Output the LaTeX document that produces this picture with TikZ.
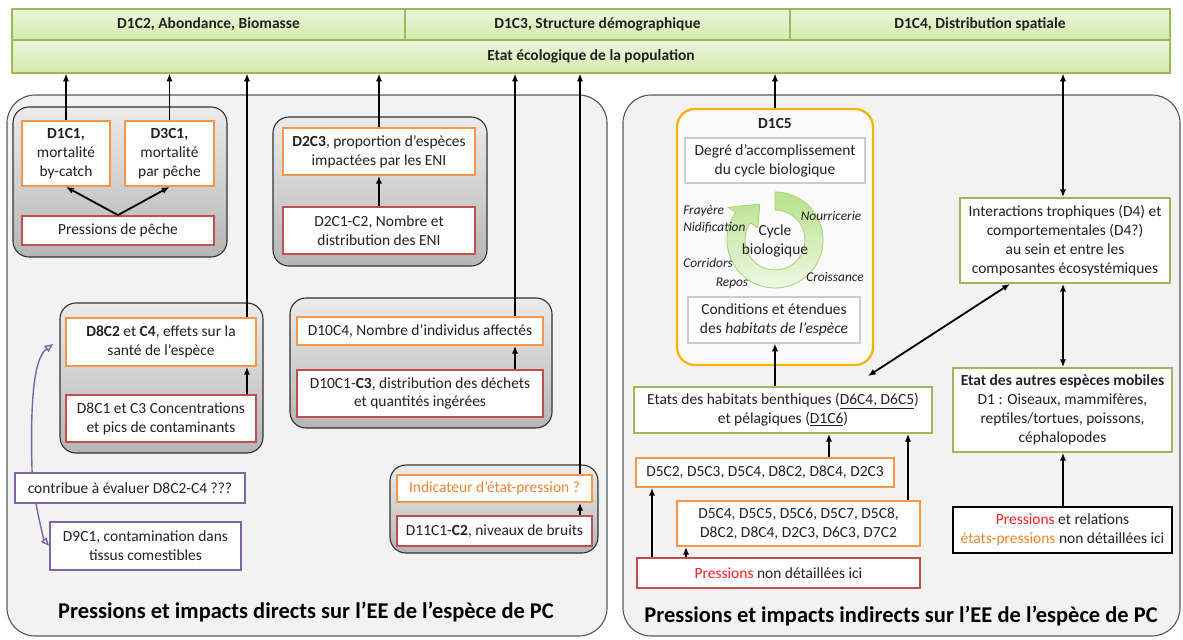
\documentclass[tikz,border=0pt]{standalone}
\usepackage{fontspec}
\setmainfont{Carlito}
\usetikzlibrary{arrows.meta,calc}
\definecolor{txt}{HTML}{222222}
\definecolor{orangeC}{HTML}{F79646}
\definecolor{redC}{HTML}{C0504D}
\definecolor{greenC}{HTML}{9BBB59}
\definecolor{purpleC}{HTML}{8064A2}
\definecolor{goldC}{HTML}{F5B400}
\definecolor{redT}{HTML}{FF2020}
\definecolor{orangeT}{HTML}{EE8533}
\definecolor{panelF}{HTML}{F2F2F2}
\definecolor{panelD}{HTML}{595959}
\definecolor{barT}{HTML}{ECF6DB}
\definecolor{barB}{HTML}{D3EAAE}
\definecolor{grpT}{HTML}{EBEBEB}
\definecolor{grpB}{HTML}{B5B5B5}
\definecolor{cycT}{HTML}{B8E28C}
\definecolor{cycB}{HTML}{EEF8E4}
\definecolor{cycD}{HTML}{A6D47C}
\begin{document}
\begin{tikzpicture}[x=0.025cm,y=-0.025cm,
  bx/.style args={#1/#2/#3/#4}{at={({(#1+#3)/2},{(#2+#4)/2})},
     minimum width={(#3-#1)*0.025cm}, minimum height={(#4-#2)*0.025cm}},
  base/.style={inner sep=0pt, align=center, text=txt, font=\fontsize{11}{13.4}\selectfont},
  obox/.style={base, draw=orangeC, line width=1.3pt, fill=white},
  rbox/.style={base, draw=redC, line width=1.3pt, fill=white},
  gbox/.style={base, draw=greenC, line width=1.3pt, fill=white},
  pbox/.style={base, draw=purpleC, line width=1.3pt, fill=white},
  kbox/.style={base, draw=black, line width=1.3pt, fill=white},
  lbox/.style={base, draw=black!20, line width=0.8pt, fill=white},
  barcell/.style={base, draw=greenC, line width=0.8pt, top color=barT, bottom color=barB, font=\fontsize{11}{13.4}\selectfont\bfseries},
  panel/.style={draw=panelD, line width=0.8pt, fill=panelF, rounded corners=0.7cm, inner sep=0pt},
  grp/.style={draw=black!80, line width=0.8pt, top color=grpT, bottom color=grpB, rounded corners=0.4cm, inner sep=0pt},
  lab/.style={inner sep=0pt, text=txt, font=\fontsize{9.5}{11}\selectfont\itshape},
  arr/.style={-{Latex[length=5.5pt,width=4.5pt]}, line width=1.3pt, black},
  darr/.style={{Latex[length=5.5pt,width=4.5pt]}-{Latex[length=5.5pt,width=4.5pt]}, line width=1.3pt, black},
  parr/.style={-{Triangle[open,length=6pt,width=5pt]}, line width=1pt, purpleC},
  ttl/.style={inner sep=0pt, text=black, font=\fontsize{16}{18}\selectfont\bfseries}
]
\useasboundingbox (0,0) rectangle (1183,639);

% panels
\node[panel, bx=7/95/607/636] (lp) {};
\node[panel, bx=623/95/1180/636] (rp) {};

% top bar
\node[barcell, bx=12/9/405/40] (b1) {D1C2, Abondance, Biomasse};
\node[barcell, bx=405/9/790/40] (b2) {D1C3, Structure démographique};
\node[barcell, bx=790/9/1170/40] (b3) {D1C4, Distribution spatiale};
\node[barcell, bx=12/40/1170/73] (bar) {Etat écologique de la population};

% left groups
\node[grp, bx=13/107/227/257] (g1) {};
\node[grp, bx=273/117/487/266] (g2) {};
\node[grp, bx=60/303/263/453] (g3) {};
\node[grp, bx=290/298/552/428] (g4) {};
\node[grp, bx=390/465/598/553] (g5) {};

\node[obox, bx=22/121/110/186] (d1c1) {\textbf{D1C1,}\\mortalité\\by-catch};
\node[obox, bx=125/121/214/186] (d3c1) {\textbf{D3C1,}\\mortalité\\par pêche};
\node[rbox, bx=22/216/214/245] (pp) {Pressions de pêche};

\node[obox, bx=283/128/475/175] (d2c3) {\textbf{D2C3}, proportion d’espèces\\impactées par les ENI};
\node[rbox, bx=283/207/475/254] (d2c1) {D2C1-C2, Nombre et\\distribution des ENI};

\node[obox, bx=66/318/256/366] (d8c2) {\textbf{D8C2} et \textbf{C4}, effets sur la\\santé de l’espèce};
\node[rbox, bx=66/395/256/442] (d8c1) {D8C1 et C3 Concentrations\\et pics de contaminants};

\node[obox, bx=297/317/543/345] (d10c4) {D10C4, Nombre d’individus affectés};
\node[rbox, bx=297/370/543/417] (d10c1) {D10C1-\textbf{C3}, distribution des déchets\\et quantités ingérées};

\node[obox, bx=397/475/592/502, text=orangeT] (ind) {Indicateur d’état-pression ?};
\node[rbox, bx=397/516/592/546] (d11) {D11C1-\textbf{C2}, niveaux de bruits};

\node[pbox, bx=15/473/245/503] (contrib) {contribue à évaluer D8C2-C4 ???};
\node[pbox, bx=50/522/241/570] (d9c1) {D9C1, contamination dans\\tissus comestibles};

% right side
\node[base, draw=goldC, line width=1.6pt, fill=white!60!panelF, rounded corners=0.45cm, bx=677/109/873/365] (d1c5) {};
\node[base, font=\fontsize{11}{13.4}\selectfont\bfseries] (d1c5t) at (775,123) {D1C5};
\node[lbox, bx=685/138/865/183] (degre) {Degré d’accomplissement\\du cycle biologique};
\node[lbox, bx=688/297/860/343] (cond) {Conditions et étendues\\des \textit{habitats de l’espèce}};

\begin{scope}[shift={(775,240)}, yscale=-1]
\shade[top color=cycT, bottom color=cycB, draw=cycD, line width=0.6pt]
  (90:48) arc[start angle=90, end angle=-215, radius=48] -- (-215:57) -- (-247:39)
  -- (-215:21) -- (-215:30) arc[start angle=-215, end angle=90, radius=30] -- cycle;
\end{scope}
\node[base] (cyc) at (775,241) {Cycle\\biologique};
\node[lab, anchor=west] (fray) at (683,211) {Frayère};
\node[lab, anchor=west] (nidi) at (683,228) {Nidification};
\node[lab] (nour) at (831,216) {Nourricerie};
\node[lab, anchor=west] (corr) at (683,263) {Corridors};
\node[lab] (repo) at (732,283) {Repos};
\node[lab] (croi) at (835,277) {Croissance};

\node[gbox, bx=960/198/1170/283] (inter) {Interactions trophiques (D4) et\\comportementales (D4?)\\au sein et entre les\\composantes écosystémiques};
\node[gbox, bx=953/368/1172/452] (autres) {\textbf{Etat des autres espèces mobiles}\\D1 : Oiseaux, mammifères,\\reptiles/tortues, poissons,\\céphalopodes};
\node[kbox, bx=953/507/1172/553] (prel) {{\color{redT}Pressions} et relations\\{\color{orangeT}états-pressions} non détaillées ici};

\node[gbox, bx=634/387/932/433] (hab) {Etats des habitats benthiques (\underline{D6C4, D6C5})\\et pélagiques (\underline{D1C6})};
\node[obox, bx=636/458/894/487] (d5a) {D5C2, D5C3, D5C4, D8C2, D8C4, D2C3};
\node[obox, bx=677/501/920/546] (d5b) {D5C4, D5C5, D5C6, D5C7, D5C8,\\D8C2, D8C4, D2C3, D6C3, D7C2};
\node[rbox, bx=637/558/920/588] (pnd) {{\color{redT}Pressions} non détaillées ici};

% titles
\node[ttl] (lt) at (306,612) {Pressions et impacts directs sur l’EE de l’espèce de PC};
\node[ttl] (rt) at (901,616) {Pressions et impacts indirects sur l’EE de l’espèce de PC};

% connectors left
\draw[arr] (pp.north) -- (d1c1.south);
\draw[arr] (pp.north) -- (d3c1.south);
\draw[arr] (d1c1.north) -- (d1c1.north |- bar.south);
\draw[arr] (d3c1.north) -- (d3c1.north |- bar.south);
\draw[arr] (d2c1.north) -- (d2c3.south);
\draw[arr] (d2c3.north) -- (d2c3.north |- bar.south);
\draw[arr] (247,0 |- d8c1.north) -- (247,0 |- d8c2.south);
\draw[arr] (247,0 |- d8c2.north) -- (247,0 |- bar.south);
\draw[arr] (515,0 |- d10c1.north) -- (515,0 |- d10c4.south);
\draw[arr] (515,0 |- d10c4.north) -- (515,0 |- bar.south);
\draw[arr] (580,0 |- d11.north) -- (580,0 |- ind.south);
\draw[arr] (580,0 |- ind.north) -- (580,0 |- bar.south);
\coordinate (ptip) at ($(d8c2.west)+(-12,2)$);
\draw[parr] ($(contrib.north west)+(18,0)$) .. controls (30,400) and (34,358) .. (ptip);
\draw[parr] ($(contrib.south west)+(22,0)$) .. controls (40,525) and (44,540) .. (d9c1.west);

% connectors right
\draw[arr] (d1c5.north) -- (d1c5.north |- bar.south);
\draw[darr] (1063,0 |- bar.south) -- (1063,0 |- inter.north);
\draw[darr] (1063,0 |- inter.south) -- (1063,0 |- autres.north);
\draw[arr] (1063,0 |- prel.north) -- (1063,0 |- autres.south);
\draw[arr] (775,0 |- hab.north) -- (775,0 |- cond.south);
\coordinate (hdiag) at ($(hab.north east)+(-65,-10)$);
\draw[darr] (hdiag) -- (1010,0 |- inter.south);
\draw[arr] (829,0 |- d5a.north) -- (829,0 |- hab.south);
\draw[arr] (908,0 |- d5b.north) -- (908,0 |- hab.south);
\draw[arr] (652,0 |- pnd.north) -- (652,0 |- d5a.south);
\draw[arr] (686,0 |- pnd.north) -- (686,0 |- d5b.south);
\end{tikzpicture}
\end{document}
